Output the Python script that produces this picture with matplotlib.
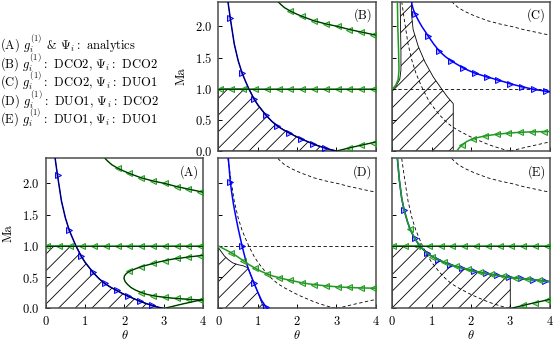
import matplotlib
matplotlib.use("Agg")
import matplotlib.pyplot as plt

# Fonts: Computer Modern look
plt.rcParams['font.family'] = 'cmr10'
plt.rcParams['mathtext.fontset'] = 'cm'
plt.rcParams['axes.formatter.use_mathtext'] = True
plt.rcParams['hatch.linewidth'] = 0.6

GREEN = '#1f9a1f'
BLUE = '#0000ff'
SPINE = '#4d4d4d'

# ---------------- data ----------------
# analytic sonic curve (solid in A/B, dashed in C/D/E)
theta_sonic = [0.24, 0.30, 0.40, 0.50, 0.60, 0.70, 0.77, 0.90, 1.00, 1.20, 1.35, 1.50, 1.65, 1.80,
               1.95, 2.10, 2.25, 2.40, 2.55, 2.70, 2.85, 3.00]
ma_sonic = [2.40, 2.13, 1.72, 1.45, 1.25, 1.10, 1.00, 0.84, 0.74, 0.58, 0.48, 0.40, 0.34, 0.29,
            0.24, 0.195, 0.155, 0.115, 0.08, 0.05, 0.022, 0.0]
mk_sonic = [1, 4, 7, 9, 11, 13, 15, 17, 19]

# upper branch
theta_upper = [1.51, 1.58, 1.68, 1.83, 1.98, 2.13, 2.28, 2.43, 2.58, 2.73, 2.88, 3.03, 3.18, 3.33,
               3.48, 3.63, 3.78, 3.93, 4.00]
ma_upper = [2.40, 2.355, 2.30, 2.245, 2.20, 2.16, 2.125, 2.09, 2.065, 2.04, 2.02, 2.00, 1.975, 1.95,
            1.93, 1.91, 1.89, 1.87, 1.86]
mk_upper = [3, 5, 7, 9, 11, 13, 15, 17]

# Ma = 1 line
theta_one = [0.0, 4.0]
ma_one = [1.0, 1.0]
theta_one_mk = [0.03, 0.33, 0.63, 0.93, 1.23, 1.53, 1.83, 2.13, 2.43, 2.73, 3.03, 3.33, 3.63, 3.93]
ma_one_mk = [1.0] * len(theta_one_mk)

# rising branch from theta = 3
theta_rise = [3.00, 3.15, 3.33, 3.50, 3.63, 3.80, 3.93, 4.00]
ma_rise = [0.0, 0.022, 0.05, 0.075, 0.093, 0.117, 0.135, 0.145]
mk_rise = [2, 4, 6]

# closed C-shaped branch (panel A only)
theta_loop = [4.00, 3.93, 3.78, 3.63, 3.48, 3.33, 3.18, 3.03, 2.88, 2.73, 2.58, 2.43, 2.28, 2.13,
              2.05, 2.00, 1.99, 2.02, 2.08, 2.17, 2.28, 2.43, 2.58, 2.73, 2.88, 3.03, 3.18, 3.33,
              3.48, 3.63, 3.78, 3.93, 4.00]
ma_loop = [0.85, 0.845, 0.835, 0.825, 0.81, 0.80, 0.785, 0.765, 0.745, 0.72, 0.695, 0.67, 0.635, 0.595,
           0.56, 0.52, 0.48, 0.43, 0.385, 0.335, 0.295, 0.255, 0.225, 0.205, 0.19, 0.178, 0.168, 0.16,
           0.153, 0.147, 0.141, 0.136, 0.134]
mk_loop = [1, 3, 5, 7, 9, 11, 13, 21, 23, 25, 27, 29, 31]

# sonic region (hatched) for A/B
theta_hatch_ab = [0.0, 0.0] + theta_sonic[6:]
ma_hatch_ab = [0.0, 1.0] + ma_sonic[6:]

# panel C
theta_blue_c = [0.49, 0.50, 0.53, 0.58, 0.66, 0.75, 0.92, 1.05, 1.20, 1.35, 1.50, 1.65, 1.80, 1.95,
                2.10, 2.25, 2.40, 2.55, 2.70, 2.85, 3.00, 3.15, 3.30, 3.45, 3.60, 3.75, 3.90, 4.00]
ma_blue_c = [2.40, 2.35, 2.28, 2.20, 2.10, 2.00, 1.84, 1.72, 1.60, 1.515, 1.445, 1.39, 1.335, 1.29,
             1.25, 1.22, 1.19, 1.165, 1.135, 1.11, 1.08, 1.055, 1.03, 1.01, 0.99, 0.975, 0.96, 0.95]
mk_blue_c = [3, 6, 8, 10, 12, 14, 16, 18, 20, 22, 24, 26]

theta_green_c1 = [0.13, 0.14, 0.16, 0.17, 0.15, 0.09, 0.03, 0.0]
ma_green_c1 = [2.40, 2.00, 1.60, 1.30, 1.15, 1.06, 1.01, 1.0]

theta_green_c2 = [1.64, 1.70, 1.78, 1.90, 2.05, 2.20, 2.35, 2.50, 2.65, 2.80, 2.95, 3.10, 3.25, 3.40,
                  3.55, 3.70, 3.85, 4.00]
ma_green_c2 = [0.0, 0.05, 0.10, 0.155, 0.195, 0.22, 0.24, 0.255, 0.268, 0.278, 0.287, 0.294, 0.30,
               0.304, 0.307, 0.31, 0.312, 0.313]
mk_green_c2 = [2, 4, 6, 8, 10, 12, 14, 16]

theta_hatch_c = [0.20, 0.21, 0.22, 0.22, 0.19, 0.10, 0.0, 0.0, 1.55, 1.55, 1.40, 1.25, 1.04, 0.83,
                 0.66, 0.53, 0.49, 0.49]
ma_hatch_c = [2.40, 2.00, 1.60, 1.30, 1.15, 1.05, 1.0, 0.0, 0.0, 0.76, 0.87, 1.00, 1.19, 1.43,
              1.68, 1.95, 2.19, 2.40]

# panel D
theta_blue_d = [0.25, 0.30, 0.33, 0.38, 0.43, 0.50, 0.60, 0.68, 0.75, 0.83, 0.90, 1.00, 1.09, 1.20, 1.24]
ma_blue_d = [2.40, 2.03, 1.88, 1.67, 1.50, 1.28, 1.00, 0.80, 0.65, 0.52, 0.41, 0.26, 0.135, 0.03, 0.0]
mk_blue_d = [1, 6, 10, 13]

theta_green_d = [0.0, 0.15, 0.33, 0.48, 0.63, 0.78, 0.93, 1.08, 1.23, 1.38, 1.53, 1.68, 1.83, 1.98,
                 2.13, 2.28, 2.43, 2.58, 2.73, 2.88, 3.03, 3.18, 3.33, 3.48, 3.63, 3.78, 3.93, 4.00]
ma_green_d = [1.0, 0.95, 0.89, 0.83, 0.765, 0.70, 0.645, 0.595, 0.555, 0.52, 0.495, 0.47, 0.45, 0.43,
              0.41, 0.395, 0.383, 0.372, 0.362, 0.354, 0.347, 0.341, 0.336, 0.332, 0.329, 0.327,
              0.325, 0.324]
mk_green_d = [2, 4, 6, 8, 10, 12, 14, 16, 18, 20, 22, 24, 26]

theta_hatch_d = [0.0, 0.0, 0.08, 0.15, 0.25, 0.36, 0.50, 0.62, 0.75, 0.83, 0.90, 1.00, 1.08, 1.16]
ma_hatch_d = [0.0, 0.97, 0.90, 0.84, 0.78, 0.73, 0.70, 0.685, 0.65, 0.52, 0.41, 0.26, 0.12, 0.0]

# panel E
theta_green_e = [0.13, 0.18, 0.24, 0.30, 0.38, 0.45, 0.57, 0.70, 0.87, 1.02, 1.17, 1.32, 1.47, 1.62,
                 1.77, 1.92, 2.07, 2.22, 2.37, 2.52, 2.67, 2.82, 2.97, 3.12, 3.27, 3.42, 3.57, 3.72,
                 3.87, 4.00]
ma_green_e = [2.40, 2.05, 1.76, 1.58, 1.40, 1.27, 1.12, 1.00, 0.89, 0.83, 0.78, 0.74, 0.70, 0.675,
              0.65, 0.625, 0.60, 0.58, 0.56, 0.545, 0.53, 0.515, 0.50, 0.49, 0.48, 0.47, 0.46, 0.45,
              0.44, 0.43]
mk_blue_e = [3, 6, 8, 10, 12, 14, 16, 18, 20, 22, 24, 26, 28]
mk_green_e = [5, 9, 11, 13, 15, 17, 19, 21, 23, 25, 27]

theta_hatch_e = [0.0, 0.0, 0.70, 0.87, 1.02, 1.17, 1.47, 1.77, 2.07, 2.37, 2.67, 2.97, 3.0, 3.0]
ma_hatch_e = [0.0, 1.0, 1.00, 0.89, 0.83, 0.78, 0.70, 0.65, 0.60, 0.56, 0.53, 0.50, 0.50, 0.0]

legend_lines = [
    r'(A) $g_i^{(1)}$ & $\Psi_i:$ analytics',
    r'(B) $g_i^{(1)}:$ DCO2, $\Psi_i:$ DCO2',
    r'(C) $g_i^{(1)}:$ DCO2, $\Psi_i:$ DUO1',
    r'(D) $g_i^{(1)}:$ DUO1, $\Psi_i:$ DCO2',
    r'(E) $g_i^{(1)}:$ DUO1, $\Psi_i:$ DUO1',
]


def green_line(ax, x, y, mk, overlay=True):
    ax.plot(x, y, color=GREEN, lw=1.1, marker='<', markevery=mk, ms=4, mew=0.7,
            mec=GREEN, mfc=(0.12, 0.6, 0.12, 0.35), zorder=3)
    if overlay:
        ax.plot(x, y, color='k', lw=0.5, zorder=4)


def blue_line(ax, x, y, mk, overlay=True):
    ax.plot(x, y, color=BLUE, lw=1.1, marker='>', markevery=mk, ms=4, mew=0.7,
            mec=BLUE, mfc=(0.0, 0.0, 1.0, 0.3), zorder=3)
    if overlay:
        ax.plot(x, y, color='k', lw=0.5, zorder=4)


def one_line(ax):
    ax.plot(theta_one, ma_one, color=GREEN, lw=1.1, zorder=3)
    ax.plot(theta_one_mk, ma_one_mk, ls='none', marker='<', ms=4, mew=0.7,
            mec=GREEN, mfc=(0.12, 0.6, 0.12, 0.35), zorder=3)
    ax.plot(theta_one, ma_one, color='k', lw=0.5, zorder=4)


def dashed_reference(ax, with_one=True, with_rise=True):
    kw = dict(color='k', lw=0.6, dashes=(4, 3), zorder=2)
    ax.plot(theta_sonic, ma_sonic, **kw)
    ax.plot(theta_upper, ma_upper, **kw)
    if with_one:
        ax.plot(theta_one, ma_one, **kw)
    if with_rise:
        ax.plot(theta_rise, ma_rise, **kw)


def hatch(ax, x, y):
    ax.fill(x, y, facecolor='none', edgecolor='k', hatch='//', lw=0.6, zorder=1)


def setup_axes(ax, label, ylabels, xlabels):
    ax.set_xlim(0, 4)
    ax.set_ylim(0, 2.4)
    ax.set_xticks([0, 1, 2, 3, 4])
    ax.set_yticks([0.0, 0.5, 1.0, 1.5, 2.0])
    ax.tick_params(direction='in', length=3, width=0.7, labelsize=9, pad=4.5)
    for sp in ax.spines.values():
        sp.set_color(SPINE)
        sp.set_linewidth(1.1)
    if not ylabels:
        ax.set_yticklabels([])
    else:
        ax.set_ylabel('Ma', fontsize=9)
        ax.yaxis.set_label_coords(-0.197, 0.5)
    if not xlabels:
        ax.set_xticklabels([])
    else:
        ax.set_xlabel(r'$\theta$', fontsize=9)
        ax.xaxis.set_label_coords(0.5, -0.14)
    ax.text(0.975, 0.955, label, transform=ax.transAxes, ha='right', va='top', fontsize=9, zorder=5)


fig = plt.figure(figsize=(5.54, 3.42), dpi=100)
ax_a = fig.add_axes([0.0825, 0.098, 0.284, 0.4386])
ax_d = fig.add_axes([0.3944, 0.098, 0.284, 0.4386])
ax_e = fig.add_axes([0.7081, 0.098, 0.284, 0.4386])
ax_b = fig.add_axes([0.3944, 0.5585, 0.284, 0.4371])
ax_c = fig.add_axes([0.7081, 0.5585, 0.284, 0.4371])

# (A) analytics
hatch(ax_a, theta_hatch_ab, ma_hatch_ab)
blue_line(ax_a, theta_sonic, ma_sonic, mk_sonic)
one_line(ax_a)
green_line(ax_a, theta_upper, ma_upper, mk_upper)
green_line(ax_a, theta_rise, ma_rise, [])
green_line(ax_a, theta_loop, ma_loop, mk_loop)
setup_axes(ax_a, '(A)', True, True)

# (B) DCO2 / DCO2
hatch(ax_b, theta_hatch_ab, ma_hatch_ab)
blue_line(ax_b, theta_sonic, ma_sonic, mk_sonic)
one_line(ax_b)
green_line(ax_b, theta_upper, ma_upper, mk_upper)
green_line(ax_b, theta_rise, ma_rise, mk_rise)
setup_axes(ax_b, '(B)', True, False)

# (C) DCO2 / DUO1
hatch(ax_c, theta_hatch_c, ma_hatch_c)
dashed_reference(ax_c)
blue_line(ax_c, theta_blue_c, ma_blue_c, mk_blue_c, overlay=False)
green_line(ax_c, theta_green_c1, ma_green_c1, [], overlay=False)
green_line(ax_c, theta_green_c2, ma_green_c2, mk_green_c2, overlay=False)
setup_axes(ax_c, '(C)', False, False)

# (D) DUO1 / DCO2
hatch(ax_d, theta_hatch_d, ma_hatch_d)
dashed_reference(ax_d)
blue_line(ax_d, theta_blue_d, ma_blue_d, mk_blue_d, overlay=False)
green_line(ax_d, theta_green_d, ma_green_d, mk_green_d, overlay=False)
setup_axes(ax_d, '(D)', False, True)

# (E) DUO1 / DUO1
hatch(ax_e, theta_hatch_e, ma_hatch_e)
dashed_reference(ax_e, with_one=False, with_rise=False)
one_line(ax_e)
green_line(ax_e, theta_rise, ma_rise, mk_rise)
blue_line(ax_e, theta_green_e, ma_green_e, mk_blue_e, overlay=False)
green_line(ax_e, theta_green_e, ma_green_e, mk_green_e, overlay=False)
setup_axes(ax_e, '(E)', False, True)

# legend text block
legend_y = [0.874, 0.819, 0.766, 0.711, 0.658]
for txt, yy in zip(legend_lines, legend_y):
    fig.text(0.0, yy, txt, ha='left', va='center', fontsize=9)

fig.savefig('out.png', dpi=100)
